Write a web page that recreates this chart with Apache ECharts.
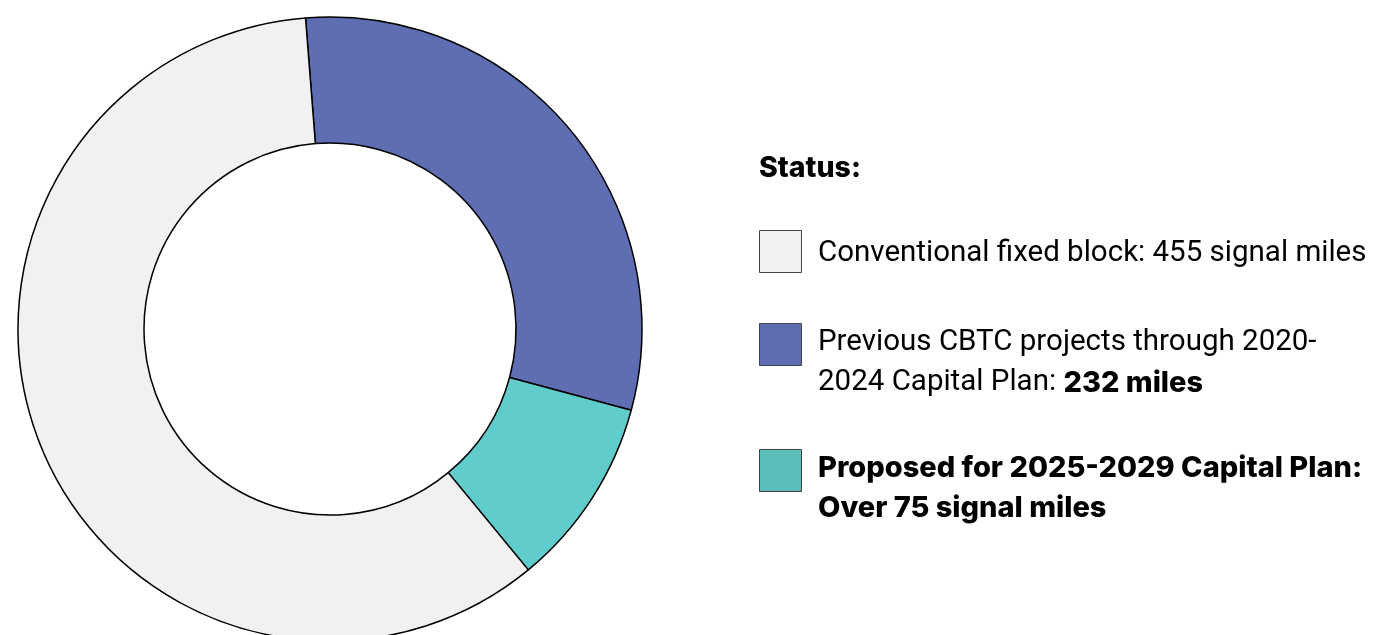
<!DOCTYPE html>
<html>
<head>
<meta charset="utf-8">
<script src="https://cdn.jsdelivr.net/npm/echarts@6/dist/echarts.min.js"></script>
<style>
  html, body { margin: 0; padding: 0; background: #ffffff; }
  #chart { width: 1376px; height: 635px; }
</style>
</head>
<body>
<div id="chart"></div>
<script>
// Signal miles by status (drawn clockwise from the top)
const categories = ['Previous CBTC projects', 'Proposed for 2025-2029 Capital Plan', 'Conventional fixed block'];
const signalMiles = [232, 75, 455];
const sliceColors = ['#5f6db3', '#60cdcc', '#f0f1f0'];

// Legend entries, in display order
const legendTitle = 'Status:';
const legendColors = ['#f0f1f0', '#5f6db3', '#5bbcba'];
const legendLines = [
  ['{n|Conventional fixed block: 455 signal miles}'],
  ['{n|Previous CBTC projects through 2020-}', '{n|2024 Capital Plan: }{b|232 miles}'],
  ['{b|Proposed for 2025-2029 Capital Plan:}', '{b|Over 75 signal miles}']
];

const FONT = 'Roboto, "Liberation Sans", sans-serif';
const BOLD_FONT = 'Inter, Roboto, sans-serif';
const chart = echarts.init(document.getElementById('chart'), null, { renderer: 'canvas' });

// Swatch tops and the matching first-line text tops
const legendTops = [230, 323, 449];
const textTops = [234, 323, 448];
const graphic = [{
  type: 'text',
  left: 759,
  top: 154,
  style: { text: legendTitle, font: '800 28.5px ' + BOLD_FONT, fill: '#000' }
}];
legendLines.forEach((lines, i) => {
  graphic.push({
    type: 'rect',
    shape: { x: 759.5, y: legendTops[i] + 0.5, width: 42, height: 42 },
    style: { fill: legendColors[i], stroke: '#444', lineWidth: 1 }
  });
  graphic.push({
    type: 'text',
    x: 818,
    y: textTops[i],
    style: {
      text: lines.join('\n'),
      fill: '#000',
      lineHeight: 40,
      rich: {
        n: { fontFamily: FONT, fontSize: 29.5, fontWeight: 'normal', lineHeight: 40, fill: '#000' },
        b: { fontFamily: BOLD_FONT, fontSize: 29, fontWeight: 800, lineHeight: 40, fill: '#000' }
      }
    }
  });
});

chart.setOption({
  animation: false,
  backgroundColor: '#ffffff',
  graphic: graphic,
  series: [{
    type: 'pie',
    center: [330, 329],
    radius: [186, 312],
    startAngle: 94.5,
    clockwise: true,
    label: { show: false },
    labelLine: { show: false },
    emphasis: { disabled: true },
    itemStyle: { borderColor: '#000', borderWidth: 1.5 },
    data: categories.map((name, i) => ({
      name: name,
      value: signalMiles[i],
      itemStyle: { color: sliceColors[i] }
    }))
  }]
});
</script>
</body>
</html>
